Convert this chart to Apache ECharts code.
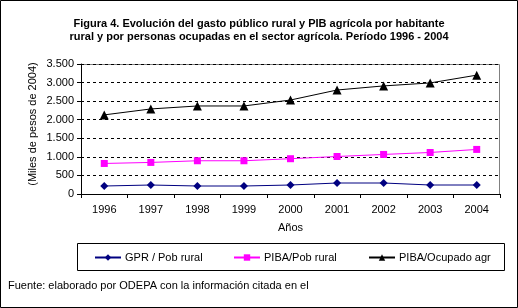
<!DOCTYPE html>
<html><head><meta charset="utf-8">
<script src="https://cdn.jsdelivr.net/npm/echarts@6/dist/echarts.min.js"></script>
<style>html,body{margin:0;padding:0;background:#fff}#c{width:518px;height:308px}</style>
</head><body><div id="c"></div>
<script>
var years = ['1996','1997','1998','1999','2000','2001','2002','2003','2004'];
var gprPobRural = [215, 242, 215, 215, 242, 296, 296, 242, 242];
var pibaPobRural = [822, 850, 895, 895, 950, 1010, 1065, 1118, 1200];
var pibaOcupadoAgr = [2130, 2290, 2370, 2370, 2530, 2800, 2910, 2990, 3200];
var seriesNames = ['GPR / Pob rural', 'PIBA/Pob rural', 'PIBA/Ocupado agr'];

var F = 'Liberation Sans, Arial, sans-serif';
var chart = echarts.init(document.getElementById('c'), null, {renderer:'canvas'});
function fmt(v){ return String(v).replace(/\B(?=(\d{3})+(?!\d))/g, '.'); }
var legendLefts = [94, 233, 368];
var legends = seriesNames.map(function(n, i){
  return {
    left:legendLefts[i], top:252, itemWidth:26, itemHeight:8, padding:0,
    textStyle:{fontFamily:F, fontSize:11, color:'#000', padding:[0,0,0,-1]},
    data:[n]
  };
});
chart.setOption({
  animation:false,
  backgroundColor:'#fff',
  title:{
    text:'Figura 4. Evolución del gasto público rural y PIB agrícola por habitante\nrural y por personas ocupadas en el sector agrícola. Período 1996 - 2004',
    left:'center', top:12,
    textStyle:{fontFamily:F, fontSize:11, fontWeight:'bold', color:'#000', lineHeight:13}
  },
  graphic:[
    {type:'rect', shape:{x:0.5,y:0.5,width:517,height:307}, style:{fill:null, stroke:'#000', lineWidth:1}, silent:true, z:-1},
    {type:'rect', shape:{x:77.5,y:243.5,width:427,height:27}, style:{fill:null, stroke:'#000', lineWidth:1}, silent:true},
    {type:'rect', shape:{x:81.5,y:64.5,width:418,height:130}, style:{fill:null, stroke:'#808080', lineWidth:1}, silent:true, z:0},
    {type:'text', left:8, top:280, style:{text:'Fuente: elaborado por ODEPA con la información citada en el', font:'11px '+F, fill:'#000'}},
    {type:'text', x:33, y:124, rotation:Math.PI/2, style:{text:'(Miles de pesos de 2004)', font:'11px '+F, fill:'#000', align:'center', verticalAlign:'middle'}}
  ],
  grid:{left:81, right:18, top:64, bottom:114},
  legend:legends,
  xAxis:{
    type:'category', data:years, boundaryGap:true,
    name:'Años', nameLocation:'middle', nameGap:28,
    nameTextStyle:{fontFamily:F, fontSize:11, color:'#000'},
    axisLine:{lineStyle:{color:'#000', width:1}},
    axisTick:{show:true, length:4, inside:false, lineStyle:{color:'#000'}},
    axisLabel:{fontFamily:F, fontSize:11, color:'#000', margin:10},
    splitLine:{show:false}
  },
  yAxis:{
    type:'value', min:0, max:3500, interval:500,
    axisLine:{show:true, lineStyle:{color:'#000', width:1}},
    axisTick:{show:true, length:4, lineStyle:{color:'#000'}},
    axisLabel:{fontFamily:F, fontSize:11, color:'#000', margin:7, formatter:fmt},
    splitLine:{show:true, lineStyle:{color:'#000', type:[3,3], width:1}}
  },
  series:[
    {name:seriesNames[0], type:'line', data:gprPobRural, symbol:'diamond', symbolSize:8,
     itemStyle:{color:'#000080'}, lineStyle:{color:'#000080', width:1}},
    {name:seriesNames[1], type:'line', data:pibaPobRural, symbol:'rect', symbolSize:7,
     itemStyle:{color:'#FF00FF'}, lineStyle:{color:'#FF00FF', width:1}},
    {name:seriesNames[2], type:'line', data:pibaOcupadoAgr, symbol:'triangle', symbolSize:9,
     itemStyle:{color:'#000'}, lineStyle:{color:'#000', width:1}}
  ]
});
</script></body></html>
